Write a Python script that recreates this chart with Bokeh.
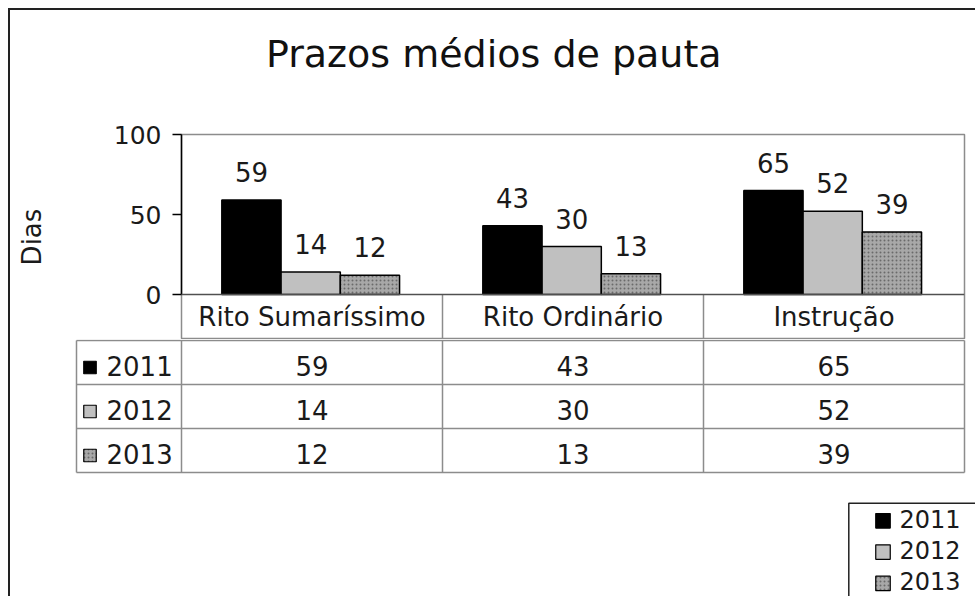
from bokeh.plotting import figure
from bokeh.models import Range1d, FactorRange, FixedTicker, ColumnDataSource, Div, Span
from bokeh.layouts import column, row
from bokeh.transform import dodge
from bokeh.core.properties import value
from bokeh.embed import file_html
from bokeh.resources import INLINE

# ---------------- data ----------------
title_text = "Prazos médios de pauta"
categories = ["Rito Sumaríssimo", "Rito Ordinário", "Instrução"]
years = ["2011", "2012", "2013"]
v2011 = [59, 43, 65]
v2012 = [14, 30, 52]
v2013 = [12, 13, 39]
y_label = "Dias"
y_ticks = [0, 50, 100]

series = [v2011, v2012, v2013]

# ---------------- styles ----------------
FONT = "DejaVu Sans"
TXT = "#1a1a1a"
GRID = "#8c8c8c"
styles = [
    dict(fill_color="black"),
    dict(fill_color="#c0c0c0"),
    dict(fill_color="#a8a8a8", hatch_pattern="dot", hatch_color="#6a6a6a",
         hatch_scale=4, hatch_weight=1.5),
]
offsets = [-0.232, -0.005, 0.222]
bar_w = 0.227
SH26 = 11.0   # baseline correction (px) for 26px text
SH24 = 10.0
SH38 = 15.0

# ---------------- title strip ----------------
pt = figure(width=965, height=100, x_range=Range1d(10, 975), y_range=Range1d(110, 10),
            x_axis_location=None, y_axis_location=None,
            output_backend="svg", toolbar_location=None, min_border=0)
pt.frame_align = False
pt.outline_line_color = None
pt.xgrid.grid_line_color = None
pt.ygrid.grid_line_color = None
pt.text(x=[493.3], y=[68.3 - SH38], text=[title_text], text_align="center",
        text_baseline="alphabetic", text_font=value(FONT), text_font_size="38px",
        text_color="#111111")

# ---------------- top figure: bars + header row ----------------
PY = 1.6      # px per unit on the value axis
y_bottom = -45 / PY
pa = figure(width=965, height=229,
            x_range=FactorRange(factors=categories),
            y_range=Range1d(y_bottom, 100),
            x_axis_location=None,
            output_backend="svg", toolbar_location=None,
            min_border_left=171, min_border_right=11,
            min_border_top=24, min_border_bottom=0)
pa.frame_align = False
pa.title.visible = False
pa.outline_line_color = GRID
pa.outline_line_width = 1.5
pa.xgrid.grid_line_color = None
pa.ygrid.grid_line_color = None

ax = pa.yaxis[0]
ax.bounds = (0, 100)
ax.ticker = FixedTicker(ticks=y_ticks)
ax.minor_tick_line_color = None
ax.major_tick_in = 0
ax.major_tick_out = 9
ax.axis_line_color = "black"
ax.axis_line_width = 1.5
ax.major_tick_line_color = "black"
ax.major_tick_line_width = 1.5
ax.major_label_text_font = FONT
ax.major_label_text_font_size = "25px"
ax.major_label_text_color = TXT
ax.major_label_standoff = 11
ax.axis_label = y_label
ax.axis_label_text_font = FONT
ax.axis_label_text_font_size = "26px"
ax.axis_label_text_font_style = "normal"
ax.axis_label_text_color = TXT
ax.axis_label_standoff = 64

pa.add_layout(Span(location=0, dimension="width", line_color="#505050", line_width=1.5))

data = dict(cat=categories)
for yr, vals in zip(years, series):
    data["v" + yr] = vals
    data["l" + yr] = [v + (17 + SH26) / PY for v in vals]
src = ColumnDataSource(data)

for yr, off, st in zip(years, offsets, styles):
    pa.vbar(x=dodge("cat", off, range=pa.x_range), top="v" + yr, bottom=0, width=bar_w,
            line_color="black", line_width=1.5, source=src, **st)
    pa.text(x=dodge("cat", off, range=pa.x_range), y="l" + yr, text="v" + yr, source=src,
            text_align="center", text_baseline="alphabetic",
            text_font=value(FONT), text_font_size="26px", text_color=TXT)

# header row (category names) and separators
pa.text(x="cat", y=-(33.3 - SH26) / PY, text="cat", source=src, text_align="center",
        text_baseline="alphabetic", text_font=value(FONT), text_font_size="26px",
        text_color=TXT)
seps = list(range(1, len(categories)))
pa.segment(x0=seps, x1=seps, y0=[0] * len(seps), y1=[y_bottom] * len(seps),
           line_color=GRID, line_width=1.5)

# ---------------- bottom figure: data table + legend ----------------
PX = 261.0   # px per category
RH = 44.0    # px per table row
pb = figure(width=965, height=257,
            x_range=Range1d(-171 / PX, 794 / PX),
            y_range=Range1d(256 / RH, -1 / RH),
            x_axis_location=None, y_axis_location=None,
            output_backend="svg", toolbar_location=None, min_border=0)
pb.frame_align = False
pb.outline_line_color = None
pb.xgrid.grid_line_color = None
pb.ygrid.grid_line_color = None

n_cat = len(categories)
n_row = len(years)
hdr_left = -105 / PX

# grid lines
hr = list(range(n_row + 1))
pb.segment(x0=[hdr_left] * len(hr), x1=[n_cat] * len(hr), y0=hr, y1=hr,
           line_color=GRID, line_width=1.5)
vx = [hdr_left] + list(range(n_cat + 1))
pb.segment(x0=vx, x1=vx, y0=[0] * len(vx), y1=[n_row] * len(vx),
           line_color=GRID, line_width=1.5)

# row headers: swatch + year, and the values
for r, (yr, st) in enumerate(zip(years, styles)):
    pb.rect(x=hdr_left + 13.5 / PX, y=r + 27 / RH, width=12.5, height=12.5,
            width_units="screen", height_units="screen",
            line_color="black", line_width=1.2, **st)
    pb.text(x=[hdr_left + 30 / PX], y=[r + (36 - SH26) / RH], text=[yr], text_align="left",
            text_baseline="alphabetic", text_font=value(FONT), text_font_size="26px",
            text_color=TXT)
    pb.text(x=[i + 0.5 for i in range(n_cat)], y=[r + (36 - SH26) / RH] * n_cat,
            text=[str(v) for v in series[r]], text_align="center",
            text_baseline="alphabetic", text_font=value(FONT), text_font_size="26px",
            text_color=TXT)

# legend box (bottom right)
lg_left = (848.3 - 181) / PX
lg_top = (502.7 - 340) / RH
pb.quad(left=[lg_left], right=[4.0], top=[lg_top], bottom=[7.0],
        fill_color=None, line_color="#222222", line_width=1.5)
for k, (yr, st) in enumerate(zip(years, styles)):
    base = 528.3 + 31.3 * k
    pb.rect(x=(882.5 - 181) / PX, y=(base - 8 - 340) / RH, width=14.5, height=14.5,
            width_units="screen", height_units="screen",
            line_color="black", line_width=1.2, **st)
    pb.text(x=[(899 - 181) / PX], y=[(base - SH24 - 340) / RH], text=[yr], text_align="left",
            text_baseline="alphabetic", text_font=value(FONT), text_font_size="24px",
            text_color=TXT)

# ---------------- layout with outer border (left/top) ----------------
top_bar = Div(text="", width=967, height=2, margin=0,
              styles={"background-color": "#222222"})
left_bar = Div(text="", width=2, height=586, margin=0,
               styles={"background-color": "#222222"})
layout = column(top_bar, row(left_bar, column(pt, pa, pb, spacing=0), spacing=0),
                spacing=0, margin=(8, 0, 0, 8))

open("out.html", "w").write(file_html(layout, INLINE))
